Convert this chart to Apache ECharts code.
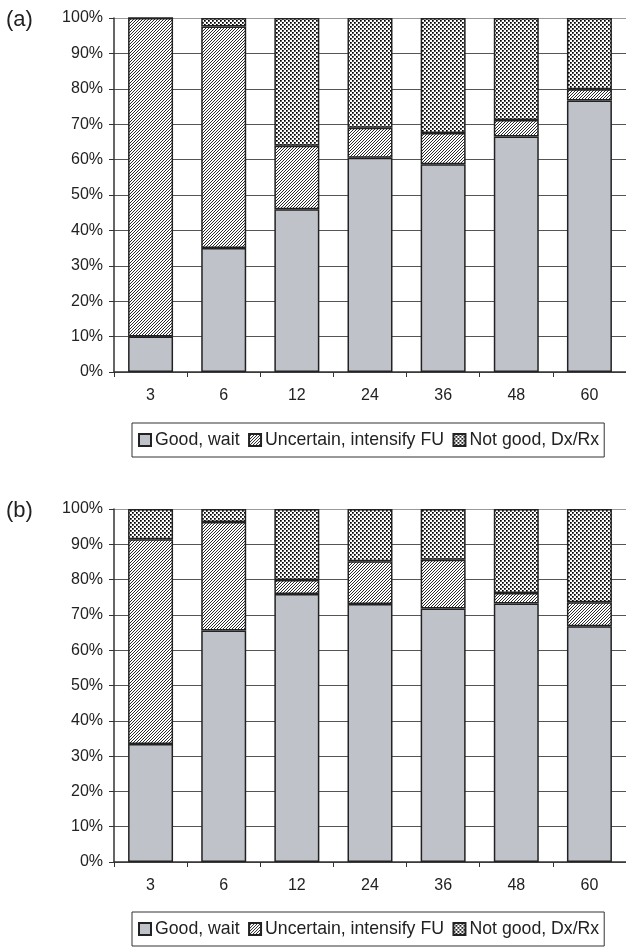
<!DOCTYPE html>
<html><head><meta charset="utf-8">
<script src="https://cdn.jsdelivr.net/npm/echarts@6/dist/echarts.min.js"></script>
<style>html,body{margin:0;padding:0;background:#fff}#c{width:626px;height:947px}</style>
</head><body><div id="c"></div>
<script>
const categories = ['3', '6', '12', '24', '36', '48', '60'];
const seriesNames = ['Good, wait', 'Uncertain, intensify FU', 'Not good, Dx/Rx'];
const panelLabels = ['(a)', '(b)'];
// Panel (a)
const goodA = [10, 35, 46, 60.5, 58.7, 66.5, 76.7];
const uncertainA = [90, 62.6, 17.9, 8.5, 8.8, 4.7, 3.2];
const notGoodA = [0, 2.4, 36.1, 31.0, 32.5, 28.8, 20.1];
// Panel (b)
const goodB = [33.4, 65.6, 75.9, 73.1, 71.8, 73.2, 66.8];
const uncertainB = [58, 30.7, 4.0, 12.1, 13.8, 3.0, 6.8];
const notGoodB = [8.6, 3.7, 20.1, 14.8, 14.4, 23.8, 26.4];

function makeHatch() {
  const c = document.createElement('canvas'); c.width = 3; c.height = 3;
  const ctx = c.getContext('2d');
  ctx.fillStyle = '#fff'; ctx.fillRect(0, 0, 3, 3);
  for (let x = 0; x < 3; x++) for (let y = 0; y < 3; y++) {
    if ((x + y) % 3 === 2) { ctx.fillStyle = '#2a2a2a'; ctx.fillRect(x, y, 1, 1); }
  }
  return c;
}
function makeDots() {
  const c = document.createElement('canvas'); c.width = 4; c.height = 4;
  const ctx = c.getContext('2d');
  ctx.fillStyle = '#fff'; ctx.fillRect(0, 0, 4, 4);
  const px = (x, y, col) => { ctx.fillStyle = col; ctx.fillRect(x, y, 1, 1); };
  [[0, 0], [2, 2]].forEach(([x, y]) => {
    px(x, y, '#000'); px(x + 1, y, '#444'); px(x, y + 1, '#444'); px(x + 1, y + 1, '#777');
  });
  return c;
}
const hatch = { image: makeHatch(), repeat: 'repeat' };
const dots = { image: makeDots(), repeat: 'repeat' };
const fills = ['#c0c2c9', hatch, dots];
const border = { borderColor: '#222', borderWidth: 1.5 };

const chart = echarts.init(document.getElementById('c'), null, { renderer: 'canvas' });
const font = 'Liberation Sans';
const gridTops = [18, 509];
const gridH = [354, 353];
const gridColors = ['#555', '#555', '#555', '#555', '#555', '#555', '#555', '#555', '#555', '#555', '#999'];

function xAxis(i) {
  return {
    type: 'category', gridIndex: i, data: categories,
    axisLine: { lineStyle: { color: '#333', width: 1.5 } },
    axisTick: { show: true, alignWithLabel: false, length: 5, lineStyle: { color: '#333' } },
    axisLabel: { fontSize: 16, color: '#222', fontFamily: font, margin: 16 },
    splitLine: { show: false }
  };
}
function yAxis(i) {
  return {
    type: 'value', gridIndex: i, min: 0, max: 100, interval: 10,
    axisLine: { show: true, lineStyle: { color: '#333', width: 1.5 } },
    axisTick: { show: true, length: 5, lineStyle: { color: '#333' } },
    axisLabel: { fontSize: 16, color: '#222', fontFamily: font, margin: 11, formatter: '{value}%' },
    splitLine: { show: true, lineStyle: { color: gridColors, width: 1 } }
  };
}
const data = [[goodA, uncertainA, notGoodA], [goodB, uncertainB, notGoodB]];
const series = [];
[0, 1].forEach(g => {
  data[g].forEach((vals, k) => {
    series.push({
      name: seriesNames[k], type: 'bar', stack: 'p' + g,
      xAxisIndex: g, yAxisIndex: g, data: vals, barWidth: '61.5%',
      itemStyle: Object.assign({ color: fills[k] }, border),
      emphasis: { disabled: true }, animation: false
    });
  });
});
function legend(top) {
  return {
    left: 132, top: top, data: seriesNames, selectedMode: false,
    borderColor: '#333', borderWidth: 1, padding: [8, 5, 8, 6],
    itemWidth: 12, itemHeight: 12, itemGap: 8.5, icon: 'rect',
    textStyle: { fontSize: 17.7, color: '#222', fontFamily: font, padding: [0, 0, 0, -1] }
  };
}
chart.setOption({
  animation: false,
  backgroundColor: '#fff',
  grid: [
    { left: 114, right: 0, top: gridTops[0], height: gridH[0] },
    { left: 114, right: 0, top: gridTops[1], height: gridH[1] }
  ],
  xAxis: [xAxis(0), xAxis(1)],
  yAxis: [yAxis(0), yAxis(1)],
  legend: [legend(423), legend(912)],
  graphic: [
    { type: 'text', left: 6, top: 9, style: { text: panelLabels[0], font: '22px Liberation Sans', fill: '#222' } },
    { type: 'text', left: 6, top: 500, style: { text: panelLabels[1], font: '22px Liberation Sans', fill: '#222' } }
  ],
  series: series
});
</script></body></html>
